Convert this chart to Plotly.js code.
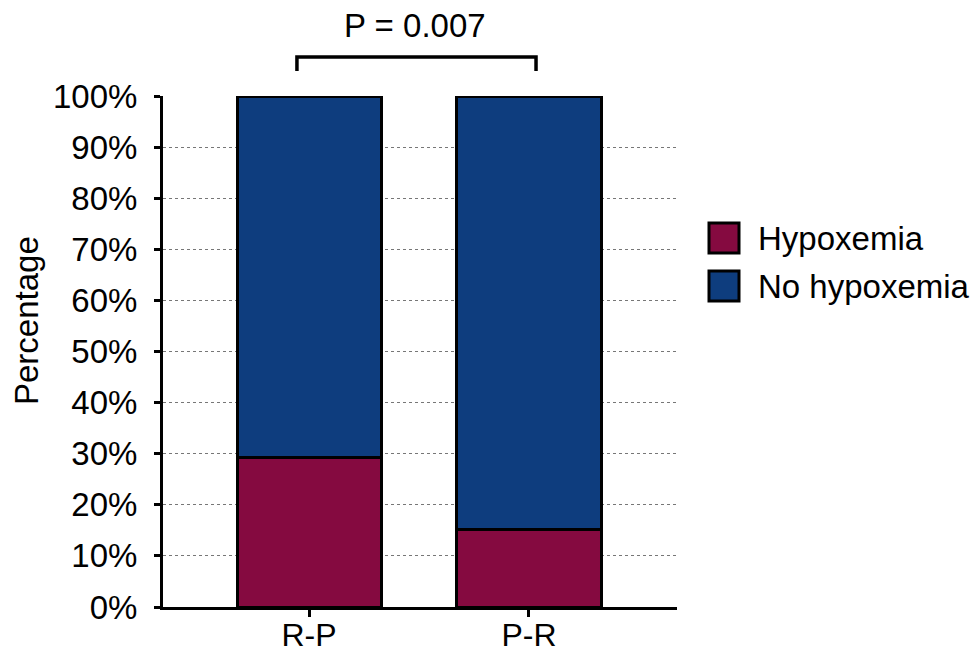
<!DOCTYPE html>
<html>
<head>
<meta charset="utf-8">
<script src="https://cdn.plot.ly/plotly-3.0.1.min.js"></script>
<style>html,body{margin:0;padding:0;background:#fff;}#chart{width:971px;height:656px;}</style>
</head>
<body>
<div id="chart"></div>
<script>
const categories = ["R-P", "P-R"];
const seriesNames = ["Hypoxemia", "No hypoxemia"];
const hypoxemia = [29.3, 15.2];
const noHypoxemia = [70.7, 84.8];
const yTicks = [0, 10, 20, 30, 40, 50, 60, 70, 80, 90, 100];
const pText = "P = 0.007";
const colors = ["#850A40", "#0E3D7E"];

const FONT = "Liberation Sans, Arial, sans-serif";
const FS = 33;
const L = 163, R = 294, T = 96, B = 49, W = 971, H = 656;
const pw = W - L - R, ph = H - T - B;
const px2x = p => (p - L) / pw;
const px2y = p => (H - B - p) / ph;

const traces = [hypoxemia, noHypoxemia].map((vals, i) => ({
  type: "bar",
  name: seriesNames[i],
  x: categories,
  y: vals,
  width: 0.655,
  marker: {color: colors[i], line: {color: "#000", width: 3}},
  showlegend: false
}));

const shapes = [
  {type: "path", xref: "x", yref: "paper",
   path: `M -0.055,${px2y(71)} L -0.055,${px2y(57)} L 1.032,${px2y(57)} L 1.032,${px2y(71)}`,
   line: {color: "#000", width: 3.5}}
];
const annotations = [
  {text: pText, xref: "paper", yref: "paper", x: px2x(415), y: px2y(26),
   showarrow: false, font: {family: FONT, size: FS, color: "#000"}, xanchor: "center", yanchor: "middle"},
  {text: "Percentage", xref: "paper", yref: "paper", x: px2x(26), y: px2y(321), textangle: -90,
   showarrow: false, font: {family: FONT, size: FS, color: "#000"}, xanchor: "center", yanchor: "middle"}
];
seriesNames.forEach((name, i) => {
  const y0 = 223 + i * 48;
  shapes.push({type: "rect", xref: "paper", yref: "paper",
    x0: px2x(709), x1: px2x(739), y0: px2y(y0), y1: px2y(y0 + 30),
    fillcolor: colors[i], line: {color: "#000", width: 3}});
  annotations.push({text: name, xref: "paper", yref: "paper", x: px2x(756), y: px2y(y0 + 15),
    showarrow: false, xanchor: "left", yanchor: "middle",
    font: {family: FONT, size: FS, color: "#000"}});
});

const layout = {
  width: W, height: H,
  margin: {l: L, r: R, t: T, b: B, pad: 0},
  paper_bgcolor: "#fff", plot_bgcolor: "#fff",
  barmode: "stack",
  showlegend: false,
  font: {family: FONT, color: "#000"},
  xaxis: {
    type: "category", range: [-0.664, 1.673],
    showline: true, linecolor: "#000", linewidth: 3,
    ticks: "outside", ticklen: 7, tickwidth: 3, tickcolor: "#000",
    ticklabelstandoff: -9,
    tickfont: {family: FONT, size: 32, color: "#000"},
    showgrid: false, zeroline: false, fixedrange: true
  },
  yaxis: {
    range: [0, 100], tickvals: yTicks, ticktext: yTicks.map(v => v + "%"),
    showline: true, linecolor: "#000", linewidth: 3,
    ticks: "outside", ticklen: 6, tickwidth: 3, tickcolor: "#000",
    ticklabelstandoff: 10,
    tickfont: {family: FONT, size: FS, color: "#000"},
    showgrid: true, gridcolor: "#777", griddash: "dot", gridwidth: 1,
    zeroline: false, fixedrange: true
  },
  shapes: shapes,
  annotations: annotations
};

Plotly.newPlot("chart", traces, layout, {staticPlot: true, displayModeBar: false});
</script>
</body>
</html>
